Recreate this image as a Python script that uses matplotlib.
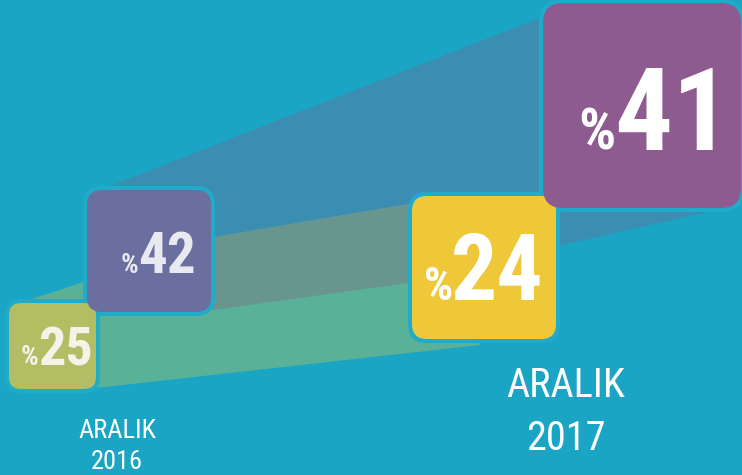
import matplotlib
matplotlib.use("Agg")
import matplotlib.pyplot as plt
from matplotlib.patches import FancyBboxPatch, Polygon

# Survey shares, December 2016 vs December 2017
values_2016 = [25, 42]
values_2017 = [24, 41]
period_labels = ["ARALIK\n2016", "ARALIK\n2017"]

BG = "#1ba5c4"
RIM = "#20abcb"
BOX_COLORS = {25: "#b3bd63", 42: "#6a6f9f", 24: "#efc83a", 41: "#8d5b8f"}
TEXT_COLORS = {25: "#f3f3ea", 42: "#e9e9f2", 24: "#ffffff", 41: "#ffffff"}
FONT = ["Roboto Condensed", "DejaVu Sans"]

W, H = 742, 475
fig = plt.figure(figsize=(W / 100, H / 100), dpi=100)
fig.patch.set_facecolor(BG)
ax = fig.add_axes([0, 0, 1, 1])
ax.set_xlim(0, W)
ax.set_ylim(H, 0)
ax.axis("off")

# box layout in pixel units: (left, top, width, height, corner radius)
boxes = {
    values_2016[0]: (9, 303, 87, 86, 12),
    values_2016[1]: (87, 190, 124, 122, 15),
    values_2017[0]: (412, 196, 144, 143, 15),
    values_2017[1]: (543, 3, 198, 205, 20),
}

# number label: (left x of digits, baseline y, digit size, percent size, % gap)
labels = {
    values_2016[0]: (38, 365, 39, 20, 0),
    values_2016[1]: (138, 273, 41, 20, 0),
    values_2017[0]: (451, 300, 66, 33, 2),
    values_2017[1]: (614, 150, 83, 42, 2),
}

# beams linking the boxes (corners hidden behind boxes)
blue_beam = [(110, 186), (560, 10), (700, 150), (712, 211), (562, 245),
             (480, 263), (480, 273), (213, 310), (150, 300)]
green_beam = [(32, 299), (150, 260), (150, 248), (409, 204), (450, 250),
              (480, 345), (96, 388), (60, 340)]

blue = Polygon(blue_beam, closed=True, facecolor="#3b8db2", edgecolor="none", zorder=1)
ax.add_patch(blue)
ax.add_patch(Polygon(green_beam, closed=True, facecolor="#59b198",
                     edgecolor="none", zorder=2))
overlap = Polygon(green_beam, closed=True, facecolor="#69958f",
                  edgecolor="none", zorder=3)
ax.add_patch(overlap)
overlap.set_clip_path(blue)

for val, (x, y, w, h, r) in boxes.items():
    ax.add_patch(FancyBboxPatch((x - 4, y - 4), w + 8, h + 8,
                                boxstyle=f"round,pad=0,rounding_size={r + 4}",
                                facecolor=RIM, edgecolor="none", zorder=4))
    ax.add_patch(FancyBboxPatch((x, y), w, h,
                                boxstyle=f"round,pad=0,rounding_size={r}",
                                facecolor=BOX_COLORS[val], edgecolor="none", zorder=5))
    lx, base, big, small, gap = labels[val]
    ax.text(lx, base, str(val), ha="left", va="baseline", fontsize=big,
            fontweight="bold", family=FONT, color=TEXT_COLORS[val], zorder=6)
    ax.text(lx + gap, base, "%", ha="right", va="baseline", fontsize=small,
            fontweight="bold", family=FONT, color=TEXT_COLORS[val], zorder=6)

# period captions under each pair, one line at a time
captions = [(117, [438, 469], 19), (566, [397, 450], 29)]
for label, (cx, baselines, size) in zip(period_labels, captions):
    for line, base in zip(label.split("\n"), baselines):
        ax.text(cx, base, line, ha="center", va="baseline", fontsize=size,
                family=FONT, color="white")

fig.savefig("out.png", dpi=100, facecolor=BG)
